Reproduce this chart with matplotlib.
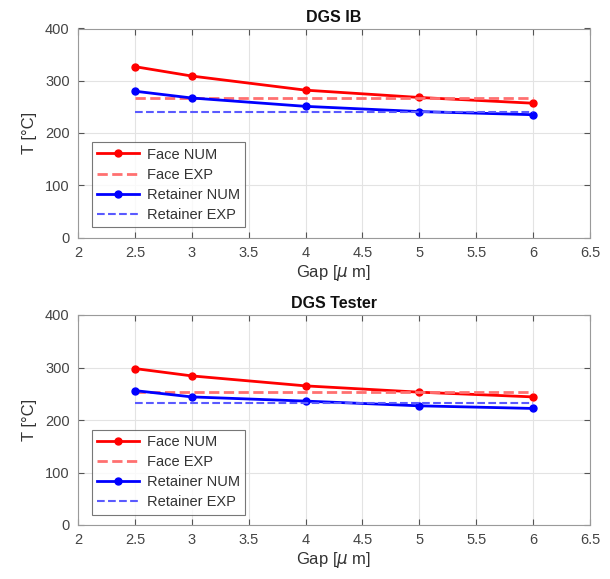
import matplotlib
matplotlib.use("Agg")
import matplotlib.pyplot as plt

plt.rcParams['font.family'] = ['Liberation Sans', 'DejaVu Sans']

gap = [2.5, 3, 4, 5, 6]

ib_face_num = [327, 309, 282, 268, 257]
ib_face_exp = 267
ib_ret_num = [280, 267, 251, 241, 235]
ib_ret_exp = 241

tester_face_num = [298, 284, 265, 253, 244]
tester_face_exp = 254
tester_ret_num = [256, 244, 236, 227, 222]
tester_ret_exp = 232

titles = ["DGS IB", "DGS Tester"]
xticks = [2, 2.5, 3, 3.5, 4, 4.5, 5, 5.5, 6, 6.5]
yticks = [0, 100, 200, 300, 400]

fig = plt.figure(figsize=(6.10, 5.79), dpi=100)
ax1 = fig.add_axes([78/610, 1-237.5/579, 512/610, 209/579])
ax2 = fig.add_axes([78/610, 1-525/579, 512/610, 210/579])

data = [
    (ib_face_num, ib_face_exp, ib_ret_num, ib_ret_exp),
    (tester_face_num, tester_face_exp, tester_ret_num, tester_ret_exp),
]
tc = '#333333'
for ax, title, (fn, fe, rn, re) in zip([ax1, ax2], titles, data):
    ax.plot(gap, fn, '-o', color='#ff0000', lw=2, ms=5, label='Face NUM')
    ax.plot(gap, [fe]*len(gap), '--', color='#ff7070', lw=2, label='Face EXP')
    ax.plot(gap, rn, '-o', color='#0000ff', lw=2, ms=5, label='Retainer NUM')
    ax.plot(gap, [re]*len(gap), '--', color='#5a5aff', lw=1.5, label='Retainer EXP')
    ax.set_xlim(2, 6.5)
    ax.set_ylim(0, 400)
    ax.set_xticks(xticks)
    ax.set_xticklabels([f"{v:g}" for v in xticks])
    ax.set_yticks(yticks)
    ax.grid(True, color='#e3e3e3', lw=0.8)
    ax.set_axisbelow(True)
    ax.tick_params(direction='in', length=4, colors='#555555', labelcolor='#444444',
                   labelsize=10.5, top=True, right=True, pad=6)
    for s in ax.spines.values():
        s.set_color('#9a9a9a')
        s.set_linewidth(0.8)
    ax.set_title(title, fontsize=11.5, fontweight='bold', color='#111111', pad=5)
    ax.set_xlabel('Gap [$\\mu$ m]', fontsize=12, color=tc, labelpad=2)
    ax.set_ylabel('T [°C]', fontsize=12, color=tc, labelpad=6)
    leg = ax.legend(loc='lower left', bbox_to_anchor=(0.027, 0.05), fontsize=10.5,
                    frameon=True, fancybox=False, edgecolor='#555555',
                    handlelength=2.9, handletextpad=0.55, borderpad=0.35,
                    labelspacing=0.42, borderaxespad=0)
    leg.get_frame().set_linewidth(0.8)
    for t in leg.get_texts():
        t.set_color(tc)

fig.savefig('out.png', dpi=100)
